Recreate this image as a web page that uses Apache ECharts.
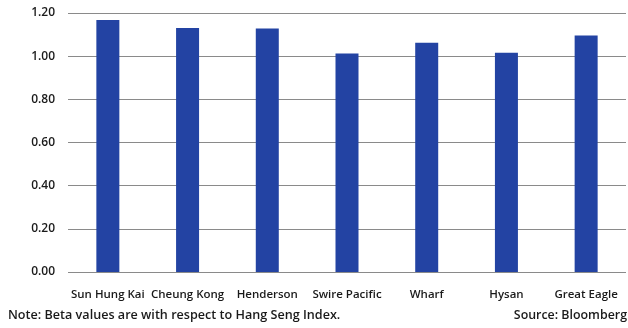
<!DOCTYPE html>
<html>
<head>
<meta charset="utf-8">
<script src="https://cdn.jsdelivr.net/npm/echarts@6/dist/echarts.min.js"></script>
<style>
  html, body { margin: 0; padding: 0; background: #ffffff; }
  #chart { width: 628px; height: 328px; }
</style>
</head>
<body>
<div id="chart"></div>
<script>
// Property stocks and their beta against the Hang Seng Index
const companies = ['Sun Hung Kai', 'Cheung Kong', 'Henderson', 'Swire Pacific', 'Wharf', 'Hysan', 'Great Eagle'];
const betaValues = [1.167, 1.13, 1.128, 1.012, 1.062, 1.016, 1.096];
const yTicks = [0, 0.2, 0.4, 0.6, 0.8, 1.0, 1.2];

const noteText = 'Note: Beta values are with respect to Hang Seng Index.';
const sourceText = 'Source: Bloomberg';

const textFont = '"Open Sans", "Liberation Sans", sans-serif';

const chart = echarts.init(document.getElementById('chart'), null, { renderer: 'canvas' });

chart.setOption({
  backgroundColor: '#ffffff',
  animation: false,
  grid: { left: 68, right: 2, top: 13, bottom: 56, containLabel: false },
  xAxis: {
    type: 'category',
    data: companies,
    axisLine: { show: false },
    axisTick: { show: false },
    axisLabel: {
      interval: 0,
      margin: 17,
      color: '#1a1a1a',
      fontSize: 11.5,
      fontWeight: 600,
      fontFamily: textFont
    }
  },
  yAxis: {
    type: 'value',
    min: yTicks[0],
    max: yTicks[yTicks.length - 1],
    interval: 0.2,
    axisLine: { show: false },
    axisTick: { show: false },
    splitLine: { lineStyle: { color: '#8a8a8a', width: 1 } },
    axisLabel: {
      margin: 13,
      color: '#1a1a1a',
      fontSize: 12,
      fontWeight: 600,
      fontFamily: textFont,
      formatter: v => v.toFixed(2)
    }
  },
  series: [{
    type: 'bar',
    data: betaValues,
    barWidth: 23,
    itemStyle: { color: '#2343a3' }
  }],
  graphic: [
    {
      type: 'text',
      left: 8,
      top: 309,
      style: {
        text: noteText,
        fill: '#1a1a1a',
        font: '600 12.6px ' + textFont
      }
    },
    {
      type: 'text',
      right: 1,
      top: 309,
      style: {
        text: sourceText,
        fill: '#1a1a1a',
        font: '600 12.4px ' + textFont
      }
    }
  ]
});
</script>
</body>
</html>
